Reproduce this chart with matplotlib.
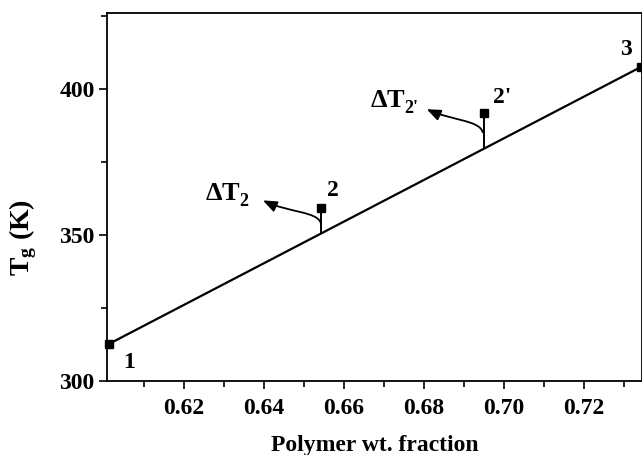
import numpy as np
import matplotlib
matplotlib.use("Agg")
import matplotlib.pyplot as plt
from matplotlib.path import Path
from matplotlib.patches import FancyArrowPatch
from matplotlib.ticker import MultipleLocator, FormatStrFormatter

plt.rcParams['font.family'] = ['Liberation Serif', 'DejaVu Serif']
plt.rcParams['font.weight'] = 'bold'
plt.rcParams['mathtext.fontset'] = 'custom'
plt.rcParams['mathtext.rm'] = 'Liberation Serif'
plt.rcParams['mathtext.bf'] = 'Liberation Serif:bold'
plt.rcParams['mathtext.it'] = 'Liberation Serif:italic'

# Data
point_labels = ["1", "2", "2'", "3"]
polymer_frac = [0.6013, 0.6543, 0.6950, 0.7343]
tg_values = [312.7, 359.1, 391.7, 407.5]
delta_main = r"$\Delta\mathbf{T}$"
delta_subs = ["2", "2'"]
x_ticks = [0.62, 0.64, 0.66, 0.68, 0.70, 0.72]
y_ticks = [300, 350, 400]

fig = plt.figure(figsize=(6.42, 4.55), dpi=100)
ax = fig.add_axes([107/642, (455-381)/455, 535/642, (381-13)/455])

# straight line through points 1 and 3
x1, x3 = polymer_frac[0], polymer_frac[-1]
y1, y3 = tg_values[0], tg_values[-1]
slope = (y3 - y1) / (x3 - x1)
def line_at(x):
    return y1 + slope * (x - x1)

ax.plot([x1, x3], [y1, y3], color='black', lw=1.6, solid_capstyle='butt', zorder=2)
ax.plot(polymer_frac, tg_values, ls='none', marker='s', ms=5.5, color='black', zorder=3, clip_on=False)

# vertical deviation lines for points 2 and 2'
for i in (1, 2):
    ax.vlines(polymer_frac[i], line_at(polymer_frac[i]), tg_values[i], color='black', lw=1.4)

ax.set_xlim(0.6008, 0.7346)
ax.set_ylim(300, 426)

# px -> data conversion factors
dxp = (0.7346 - 0.6008) / 535.0
dyp = (426 - 300) / 368.0

def px(i, ox, oy):
    return (polymer_frac[i] + ox * dxp, tg_values[i] - oy * dyp)

# point labels (pixel offsets from markers)
label_offsets = [(20, 19), (12, -18), (19, -16), (-15, -18)]
for i, (lab, (ox, oy)) in enumerate(zip(point_labels, label_offsets)):
    tx, ty = px(i, ox, oy)
    ax.text(tx, ty, lab, ha='center', va='center', fontsize=17, fontweight='bold')

# curved arrows and delta labels
arrow_defs = [
    (1, [(0, 15), (-3, 3), (-33, 4), (-58, -8)], (-80, -15)),
    (2, [(-1, 19), (-4, 7), (-33, 7), (-57, -4)], (-78, -13)),
]
for (i, ctrl, lab_off), sub in zip(arrow_defs, delta_subs):
    verts = [px(i, ox, oy) for ox, oy in ctrl]
    path = Path(verts, [Path.MOVETO, Path.CURVE4, Path.CURVE4, Path.CURVE4])
    arr = FancyArrowPatch(path=path, arrowstyle='-|>,head_length=0.7,head_width=0.28',
                          mutation_scale=12, color='black', lw=1.3)
    ax.add_patch(arr)
    tx, ty = px(i, *lab_off)
    ax.text(tx, ty, delta_main, ha='right', va='center', fontsize=19)
    ax.annotate(sub, xy=(tx, ty), xytext=(-1, -6), textcoords='offset points',
                ha='left', va='center', fontsize=13, fontweight='bold')

ax.set_xticks(x_ticks)
ax.set_yticks(y_ticks)
ax.xaxis.set_minor_locator(MultipleLocator(0.01))
ax.yaxis.set_minor_locator(MultipleLocator(25))
ax.xaxis.set_major_formatter(FormatStrFormatter('%.2f'))
ax.tick_params(axis='both', which='major', direction='out', length=6, width=1.2, labelsize=17)
ax.tick_params(axis='both', which='minor', direction='out', length=4, width=1.2)
ax.tick_params(axis='x', which='major', pad=6)
ax.tick_params(axis='y', which='major', pad=3)
for lab in ax.get_xticklabels() + ax.get_yticklabels():
    lab.set_fontweight('bold')
for sp in ax.spines.values():
    sp.set_linewidth(1.3)

ax.set_xlabel('Polymer wt. fraction', fontsize=17, fontweight='bold', labelpad=12)
ax.set_ylabel(r'$\mathbf{T_g}$ (K)', fontsize=20, fontweight='bold')
ax.yaxis.set_label_coords(-0.128, 0.39)

fig.savefig('out.png', dpi=100)
